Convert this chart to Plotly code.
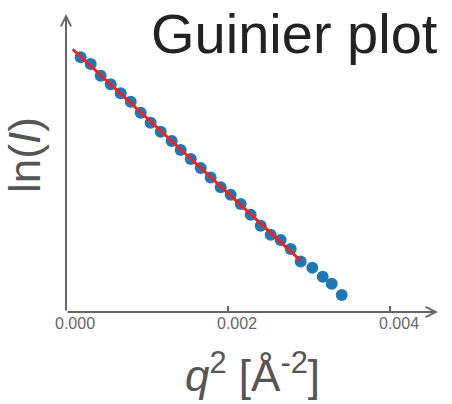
import numpy as np
import plotly.graph_objects as go

# Guinier data (q^2 in 1/A^2, ln(I) arbitrary offset)
q2 = [0.000181, 0.000305, 0.000428, 0.000552, 0.000675, 0.000799, 0.000922,
      0.001045, 0.001169, 0.001305, 0.001416, 0.001540, 0.001663, 0.001786,
      0.001910, 0.002033, 0.002157, 0.002280, 0.002404, 0.002527, 0.002650,
      0.002774, 0.002897, 0.003041, 0.003169, 0.003280, 0.003404]
lnI = [2.573, 2.505, 2.387, 2.300, 2.209, 2.124, 2.013, 1.912, 1.821, 1.727,
       1.636, 1.545, 1.454, 1.359, 1.259, 1.185, 1.091, 0.983, 0.872, 0.781,
       0.727, 0.636, 0.511, 0.448, 0.357, 0.286, 0.172]
n_fit = 23                      # points used in the Guinier fit
fit_q2 = [0.000083, 0.002897]   # extent of the fitted line
x_ticks = [0.0, 0.002, 0.004]
x_ticklabels = ["0.000", "0.002", "0.004"]

slope, intercept = np.polyfit(q2[:n_fit], lnI[:n_fit], 1)
fit_y = [intercept + slope * v for v in fit_q2]

AX = "#666666"
W, H = 452, 404
L, R, T, B = 66, 12, 15, 92

fig = go.Figure()
fig.add_trace(go.Scatter(x=q2, y=lnI, mode="markers",
                         marker=dict(size=12, color="#1f77b4"),
                         showlegend=False, hoverinfo="skip"))
fig.add_trace(go.Scatter(x=fit_q2, y=fit_y, mode="lines",
                         line=dict(color="#ee2222", width=3),
                         showlegend=False, hoverinfo="skip"))

pw = W - L - R
ph = H - T - B
fig.update_layout(
    width=W, height=H, margin=dict(l=L, r=R, t=T, b=B),
    paper_bgcolor="white", plot_bgcolor="white",
    font=dict(family="Liberation Sans, Arial, sans-serif"),
    xaxis=dict(range=[0, pw / 81000], tickvals=x_ticks, ticktext=x_ticklabels,
               showgrid=False, zeroline=False, showline=False,
               ticks="inside", ticklen=6, tickwidth=2, tickcolor=AX,
               tickfont=dict(size=16, color=AX), ticklabelshift=9),
    yaxis=dict(range=[0, ph / 99], showticklabels=False, showgrid=False,
               zeroline=False, showline=False, ticks=""),
)

# axis arrows
fig.add_annotation(xref="paper", yref="paper", x=(438 - L) / pw, y=0,
                   ax=-(438 - L), ay=0, showarrow=True, arrowhead=5,
                   arrowsize=1, arrowwidth=2, arrowcolor=AX, text="")
fig.add_annotation(xref="paper", yref="paper", x=0, y=(312 - 14) / ph,
                   ax=0, ay=(312 - 14), showarrow=True, arrowhead=5,
                   arrowsize=1, arrowwidth=2, arrowcolor=AX, text="")

# title
fig.add_annotation(xref="paper", yref="paper", x=(440 - L) / pw,
                   y=(312 - 0) / ph, xanchor="right", yanchor="top",
                   text="Guinier plot", showarrow=False,
                   font=dict(size=56, color="#222222"))
# axis titles
fig.add_annotation(xref="paper", yref="paper", x=(24 - L) / pw,
                   y=(312 - 155) / ph, xanchor="center", yanchor="middle",
                   text="ln(<i>I</i>)", textangle=-90, showarrow=False,
                   font=dict(size=44, color="#555555"))
fig.add_annotation(xref="paper", yref="paper", x=(252 - L) / pw,
                   y=(312 - 372) / ph, xanchor="center", yanchor="middle",
                   text="<i>q</i><sup>2</sup> [Å<sup>-2</sup>]", showarrow=False,
                   font=dict(size=44, color="#555555"))

fig.write_html("out.html")
